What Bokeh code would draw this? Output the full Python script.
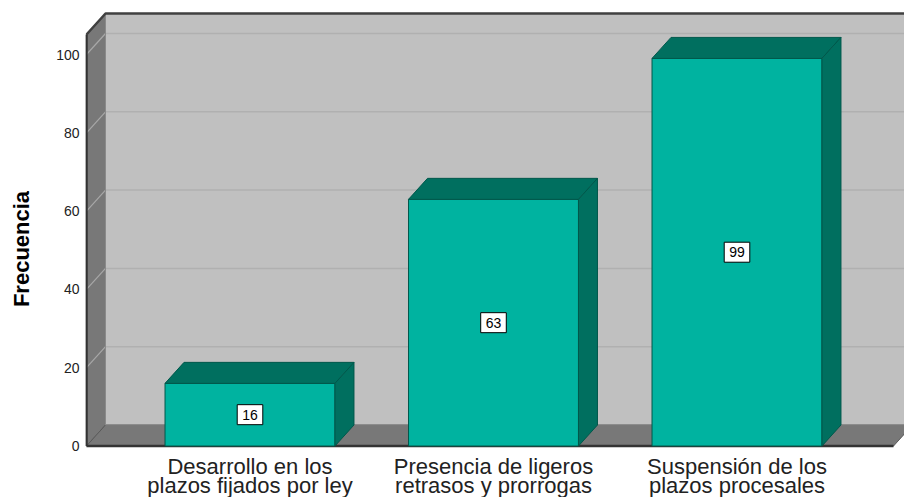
from bokeh.plotting import figure
from bokeh.models import Range1d, FixedTicker
from bokeh.core.properties import value
from bokeh.embed import file_html
from bokeh.resources import INLINE

# ---- data ----
categories = ["Desarrollo en los\nplazos fijados por ley",
              "Presencia de ligeros\nretrasos y prorrogas",
              "Suspensión de los\nplazos procesales"]
frecuencia = [16, 63, 99]
y_ticks = [0, 20, 40, 60, 80, 100]

# ---- style / geometry constants ----
PX_X = 243.5          # px per category
PX_Y = 3.915          # px per unit
DX = 19 / PX_X        # depth offset in x units
DY = 21 / PX_Y        # depth offset in y units
HALF = 0.349
XL = (86 - 249.5) / PX_X
XR = (893 - 249.5) / PX_X
WALL_TOP = 105.1

FONT = "Liberation Sans"
FRONT = "#00b3a0"
DARK = "#006f5f"
EDGE = "#00584b"

p = figure(width=904, height=497, output_backend="svg", toolbar_location=None,
           x_range=Range1d((85 - 249.5) / PX_X, (904 - 249.5) / PX_X),
           y_range=Range1d((445.5 - 497) / PX_Y, (445.5 - 0) / PX_Y),
           x_axis_location=None, min_border_left=85, min_border_right=0,
           min_border_top=0, min_border_bottom=0)
p.outline_line_color = None
p.grid.visible = False
p.background_fill_color = "white"

ax = p.yaxis[0]
ax.ticker = FixedTicker(ticks=y_ticks)
ax.axis_line_color = None
ax.major_tick_line_color = None
ax.minor_tick_line_color = None
ax.major_tick_out = 0
ax.major_label_standoff = 6
ax.major_label_text_font = FONT
ax.major_label_text_font_size = "14px"
ax.major_label_text_color = "#222222"
ax.axis_label = "Frecuencia"
ax.axis_label_text_font = FONT
ax.axis_label_text_font_size = "22px"
ax.axis_label_text_font_style = "bold"
ax.axis_label_text_color = "#000000"
ax.axis_label_standoff = 19

# back wall
p.quad(left=[XL + DX], right=[XR + DX + 1], bottom=[DY], top=[WALL_TOP + DY],
       fill_color="#c0c0c0", line_color=None)
grid_vals = [t for t in y_ticks if t > 0]
p.segment(x0=[XL + DX] * len(grid_vals), x1=[XR + DX + 1] * len(grid_vals),
          y0=[g + DY for g in grid_vals], y1=[g + DY for g in grid_vals],
          line_color="#b0b0b0", line_width=1.5)

# left wall
p.patch([XL, XL, XL + DX, XL + DX], [0, WALL_TOP, WALL_TOP + DY, DY],
        fill_color="#787878", line_color="#555555", line_width=1)
p.segment(x0=[XL] * len(grid_vals), x1=[XL + DX] * len(grid_vals),
          y0=grid_vals, y1=[g + DY for g in grid_vals],
          line_color="#a8a8a8", line_width=1.2)

# floor
p.patch([XL, XR, XR + DX, XL + DX], [0, 0, DY, DY],
        fill_color="#787878", line_color="#5a5a5a", line_width=1)
p.segment(x0=[XL + DX], x1=[XR + DX + 1], y0=[DY], y1=[DY],
          line_color="#8a8a8a", line_width=1)
p.segment(x0=[XL + DX], x1=[XL + DX], y0=[DY], y1=[WALL_TOP + DY],
          line_color="#8a8a8a", line_width=1)

# frame edges
p.line([XL, XR], [0, 0], line_color="#333333", line_width=2.5)
p.line([XL, XL], [0, WALL_TOP], line_color="#333333", line_width=2.5)
p.line([XL, XL + DX, XR + DX + 1], [WALL_TOP, WALL_TOP + DY, WALL_TOP + DY],
       line_color="#404040", line_width=2.5)

# bars
xs = list(range(len(categories)))
lefts = [x - HALF for x in xs]
rights = [x + HALF for x in xs]
p.quad(left=lefts, right=rights, bottom=[0] * len(xs), top=frecuencia,
       fill_color=FRONT, line_color=EDGE, line_width=1)
p.patches(xs=[[l, r, r + DX, l + DX] for l, r in zip(lefts, rights)],
          ys=[[v, v, v + DY, v + DY] for v in frecuencia],
          fill_color=DARK, line_color=EDGE, line_width=1)
p.patches(xs=[[r, r, r + DX, r + DX] for r in rights],
          ys=[[0, v, v + DY, DY] for v in frecuencia],
          fill_color=DARK, line_color=EDGE, line_width=1)

# value labels
p.text(x=xs, y=[v / 2 for v in frecuencia], text=[str(v) for v in frecuencia],
       text_align="center", text_baseline="middle",
       text_font=value(FONT), text_font_size="14px", text_color="#000000",
       background_fill_color="white", border_line_color="#000000",
       border_line_width=1, padding=5)

# category labels
line1 = [c.split("\n")[0] for c in categories]
line2 = [c.split("\n")[1] for c in categories]
p.text(x=xs, y=[(445.5 - 466) / PX_Y] * len(xs), text=line1,
       text_align="center", text_baseline="middle",
       text_font=value(FONT), text_font_size="22px", text_color="#222222")
p.text(x=xs, y=[(445.5 - 485) / PX_Y] * len(xs), text=line2,
       text_align="center", text_baseline="middle",
       text_font=value(FONT), text_font_size="22px", text_color="#222222")

open("out.html", "w").write(file_html(p, INLINE))
